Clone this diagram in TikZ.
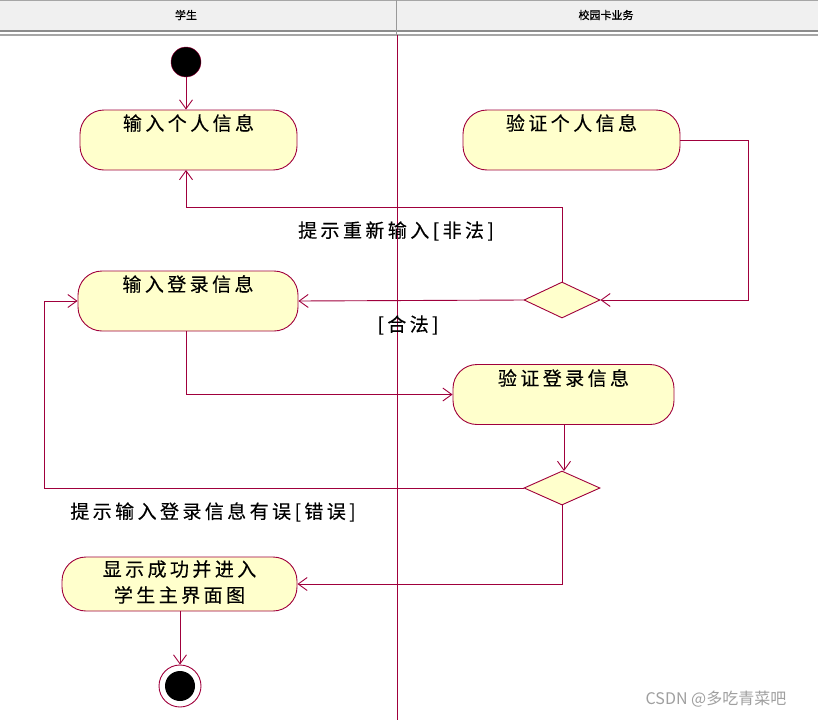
\documentclass[tikz,border=0pt]{standalone}
\usepackage{fontspec}
\setmainfont{Liberation Sans}
\newfontfamily\cjk[LetterSpace=18,FakeBold=0.3]{Noto Sans CJK SC}
\newfontfamily\cjkplain[FakeBold=0.8]{Noto Sans CJK SC}
\newfontfamily\cjkwm{Noto Sans CJK SC}
\usetikzlibrary{arrows.meta,shapes.geometric}
\definecolor{umlline}{RGB}{160,0,60}
\definecolor{umlfill}{RGB}{255,255,204}
\definecolor{hdr}{RGB}{240,240,240}
\tikzset{
  act/.style={draw=umlline, fill=umlfill, line width=0.9pt, rounded corners=24pt, minimum height=60pt, inner sep=0pt},
  acttext/.style={font=\fontsize{19}{22}\selectfont\cjk, anchor=north, align=center, inner sep=0pt},
  dec/.style={draw=umlline, fill=umlfill, line width=0.9pt, diamond, minimum width=76pt, minimum height=36pt, inner sep=0pt, aspect=2},
  flow/.style={draw=umlline, line width=0.9pt, -{Straight Barb[length=9pt,width=13pt]}},
  guard/.style={font=\fontsize{19}{22}\selectfont\cjk, inner sep=0pt},
}
\begin{document}
\begin{tikzpicture}[x=1pt,y=-1pt]
\useasboundingbox (0,0) rectangle (818,720);
% header
\fill[hdr] (0,0) rectangle (818,31);
\draw[gray!70, line width=0.8pt] (0,0.5) -- (818,0.5);
\draw[gray!90, line width=1.2pt] (0,31) -- (818,31);
\draw[gray!70, line width=1.2pt] (0,35) -- (818,35);
\draw[gray!80, line width=1pt] (396,0) -- (396,35);
\node (h1) at (186,15) {\fontsize{11}{12}\selectfont\cjkplain 学生};
\node (h2) at (606,15) {\fontsize{11}{12}\selectfont\cjkplain 校园卡业务};
% swimlane divider
\draw[umlline, line width=1pt] (397,35) -- (397,720);
% start
\node[circle, fill=black, draw=umlline, minimum size=30pt, inner sep=0pt] (start) at (186,62) {};
% activities
\node[act, minimum width=217pt] (in1) at (188.5,140) {};
\node[acttext] (in1t) at (188.5,114) {输入个人信息};
\node[act, minimum width=217pt] (v1) at (571.5,140) {};
\node[acttext] (v1t) at (571.5,114) {验证个人信息};
\node[act, minimum width=220pt] (in2) at (188,301) {};
\node[acttext] (in2t) at (188,275) {输入登录信息};
\node[act, minimum width=221pt] (v2) at (563.5,394.5) {};
\node[acttext] (v2t) at (563.5,369) {验证登录信息};
\node[act, minimum width=235pt, minimum height=54pt] (ok) at (179.5,584) {};
\node[acttext, font=\fontsize{19}{26}\selectfont\cjk] (okt) at (179.5,560) {显示成功并进入\\学生主界面图};
% decisions
\node[dec] (d1) at (562,300) {};
\node[dec, minimum height=34pt] (d2) at (562,488) {};
% end
\node[circle, draw=umlline, line width=0.9pt, fill=white, minimum size=42pt, inner sep=0pt] (end) at (180,686) {};
\node[circle, fill=black, minimum size=30pt, inner sep=0pt] (endi) at (180,686) {};
% flows
\draw[flow] (start) -- (in1.north -| start);
\draw[flow] (v1.east) -- (748,140) |- (d1.east);
\draw[flow] (d1.north) |- (186,207) -- (186,170);
\draw[flow] (d1.west) -- (in2.east);
\draw[flow] (186,331) |- (v2.west);
\draw[flow] (v2.south -| 564,0) -- (564,471);
\draw[flow] (d2.west) -- (44,488) |- (in2.west);
\draw[flow] (d2.south) |- (ok.east);
\draw[flow] (180,611) -- (end.north);
% guards
\node[guard] (g1) at (396,231) {提示重新输入[非法]};
\node[guard] (g2) at (408,325) {[合法]};
\node[guard] (g3) at (213,512) {提示输入登录信息有误[错误]};
% watermark
\node[text=gray!75, font=\fontsize{16}{18}\selectfont\cjkwm] (wm) at (716,699) {CSDN @多吃青菜吧};
\end{tikzpicture}
\end{document}
